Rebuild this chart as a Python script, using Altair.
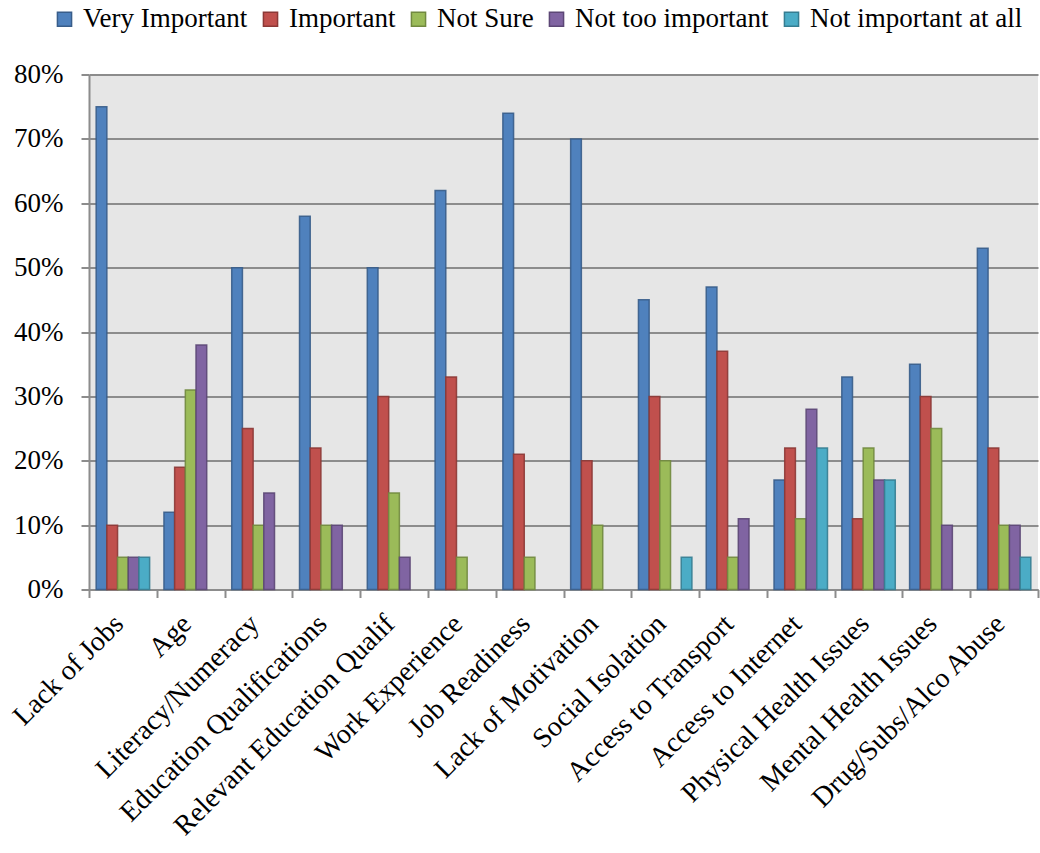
import altair as alt
import pandas as pd

categories = [
    "Lack of Jobs", "Age", "Literacy/Numeracy", "Education Qualifications",
    "Relevant Education Qualif", "Work Experience", "Job Readiness",
    "Lack of Motivation", "Social Isolation", "Access to Transport",
    "Access to Internet", "Physical Health Issues", "Mental Health Issues",
    "Drug/Subs/Alco Abuse",
]
series = ["Very Important", "Important", "Not Sure", "Not too important",
          "Not important at all"]

very_important = [75, 12, 50, 58, 50, 62, 74, 70, 45, 47, 17, 33, 35, 53]
important = [10, 19, 25, 22, 30, 33, 21, 20, 30, 37, 22, 11, 30, 22]
not_sure = [5, 31, 10, 10, 15, 5, 5, 10, 20, 5, 11, 22, 25, 10]
not_too_important = [5, 38, 15, 10, 5, 0, 0, 0, 0, 11, 28, 17, 10, 10]
not_important_at_all = [5, 0, 0, 0, 0, 0, 0, 0, 5, 0, 22, 17, 0, 5]

fills = ["#4F81BD", "#C0504D", "#9BBB59", "#8064A2", "#4BACC6"]
strokes = ["#385D8A", "#8C3836", "#71893F", "#5C4776", "#357D91"]

values_by_series = [very_important, important, not_sure,
                    not_too_important, not_important_at_all]
rows = []
for s, vals in zip(series, values_by_series):
    for c, v in zip(categories, vals):
        if v > 0:
            rows.append({"category": c, "series": s, "value": v / 100})
df = pd.DataFrame(rows)

FONT = "Liberation Serif"

bars = alt.Chart(df).mark_bar(strokeWidth=1.5, strokeOpacity=0.9).encode(
    x=alt.X(
        "category:N",
        sort=categories,
        scale=alt.Scale(domain=categories, paddingInner=0, paddingOuter=0),
        axis=alt.Axis(
            title=None, labelAngle=-45, labelAlign="right",
            labelBaseline="middle", labelFont=FONT, labelFontSize=28,
            labelColor="#000000", labelLimit=0, labelPadding=22,
            labelOffset=-4, tickSize=8, tickColor="#8C8C8C",
            tickWidth=2, tickBand="extent", domainColor="#8C8C8C",
            domainWidth=2, grid=False,
        ),
    ),
    xOffset=alt.XOffset(
        "series:N",
        scale=alt.Scale(domain=series, paddingInner=0, paddingOuter=0.67),
    ),
    y=alt.Y(
        "value:Q",
        scale=alt.Scale(domain=[0, 0.8], nice=False),
        axis=alt.Axis(
            title=None, format=".0%", values=[i / 10 for i in range(9)],
            labelFont=FONT, labelFontSize=27, labelColor="#000000",
            labelPadding=18, tickSize=8, tickColor="#8C8C8C", tickWidth=2,
            domainColor="#8C8C8C", domainWidth=2,
            grid=True, gridColor="#8C8C8C", gridWidth=2,
        ),
    ),
    color=alt.Color(
        "series:N",
        scale=alt.Scale(domain=series, range=fills),
        legend=alt.Legend(
            title=None, orient="none", direction="horizontal", columns=5,
            legendX=-38, legendY=-69, symbolType="square", symbolSize=200,
            symbolStrokeWidth=1.5, labelFont=FONT, labelFontSize=27,
            labelColor="#000000", labelLimit=0, columnPadding=9,
            labelOffset=5,
        ),
    ),
    stroke=alt.Stroke(
        "series:N", scale=alt.Scale(domain=series, range=strokes), legend=None
    ),
)

chart = bars.properties(
    width=949,
    height=515,
    autosize=alt.AutoSizeParams(type="none"),
    padding={"left": 89, "top": 74.5, "right": 2, "bottom": 263.5},
    background="#FFFFFF",
).configure_view(fill="#E6E6E6", strokeWidth=0)

chart.save("out.html", embed_options={"renderer": "svg", "actions": False})
